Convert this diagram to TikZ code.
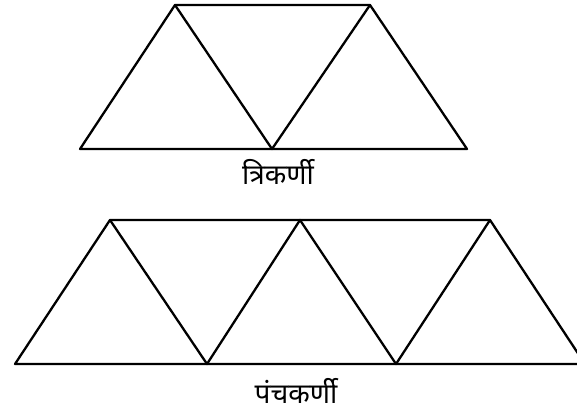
\documentclass[tikz,border=0pt]{standalone}
\usepackage{fontspec}
\usepackage{tikz}
\newfontfamily\devfont[Script=Devanagari]{Noto Sans}

\begin{document}
\begin{tikzpicture}[x=1pt, y=-1pt,
    edge/.style={line width=2.3pt, line join=round, line cap=round},
    figlabel/.style={font=\devfont\fontsize{28}{32}\selectfont, inner sep=0pt}]
  \clip (0,0) rectangle (577,412);

  % trikarni
  \coordinate (ta) at (175,5);
  \coordinate (tb) at (370,5);
  \coordinate (ba) at (80,149);
  \coordinate (bb) at (272,149);
  \coordinate (bc) at (467,149);
  \draw[edge] (ba) -- (ta) -- (tb) -- (bc) -- cycle;
  \draw[edge] (ta) -- (bb) -- (tb);
  \node[figlabel] (trilabel) at (278,172) {त्रिकर्णी};

  % panchakarni
  \coordinate (pa) at (110,220);
  \coordinate (pb) at (300,220);
  \coordinate (pc) at (490,220);
  \coordinate (qa) at (15,364);
  \coordinate (qb) at (207,364);
  \coordinate (qc) at (396,364);
  \coordinate (qd) at (585,364);
  \draw[edge] (qa) -- (pa) -- (pb) -- (pc) -- (qd) -- cycle;
  \draw[edge] (pa) -- (qb) -- (pb) -- (qc) -- (pc);
  \node[figlabel] (panchlabel) at (296,391) {पंचकर्णी};
\end{tikzpicture}
\end{document}
